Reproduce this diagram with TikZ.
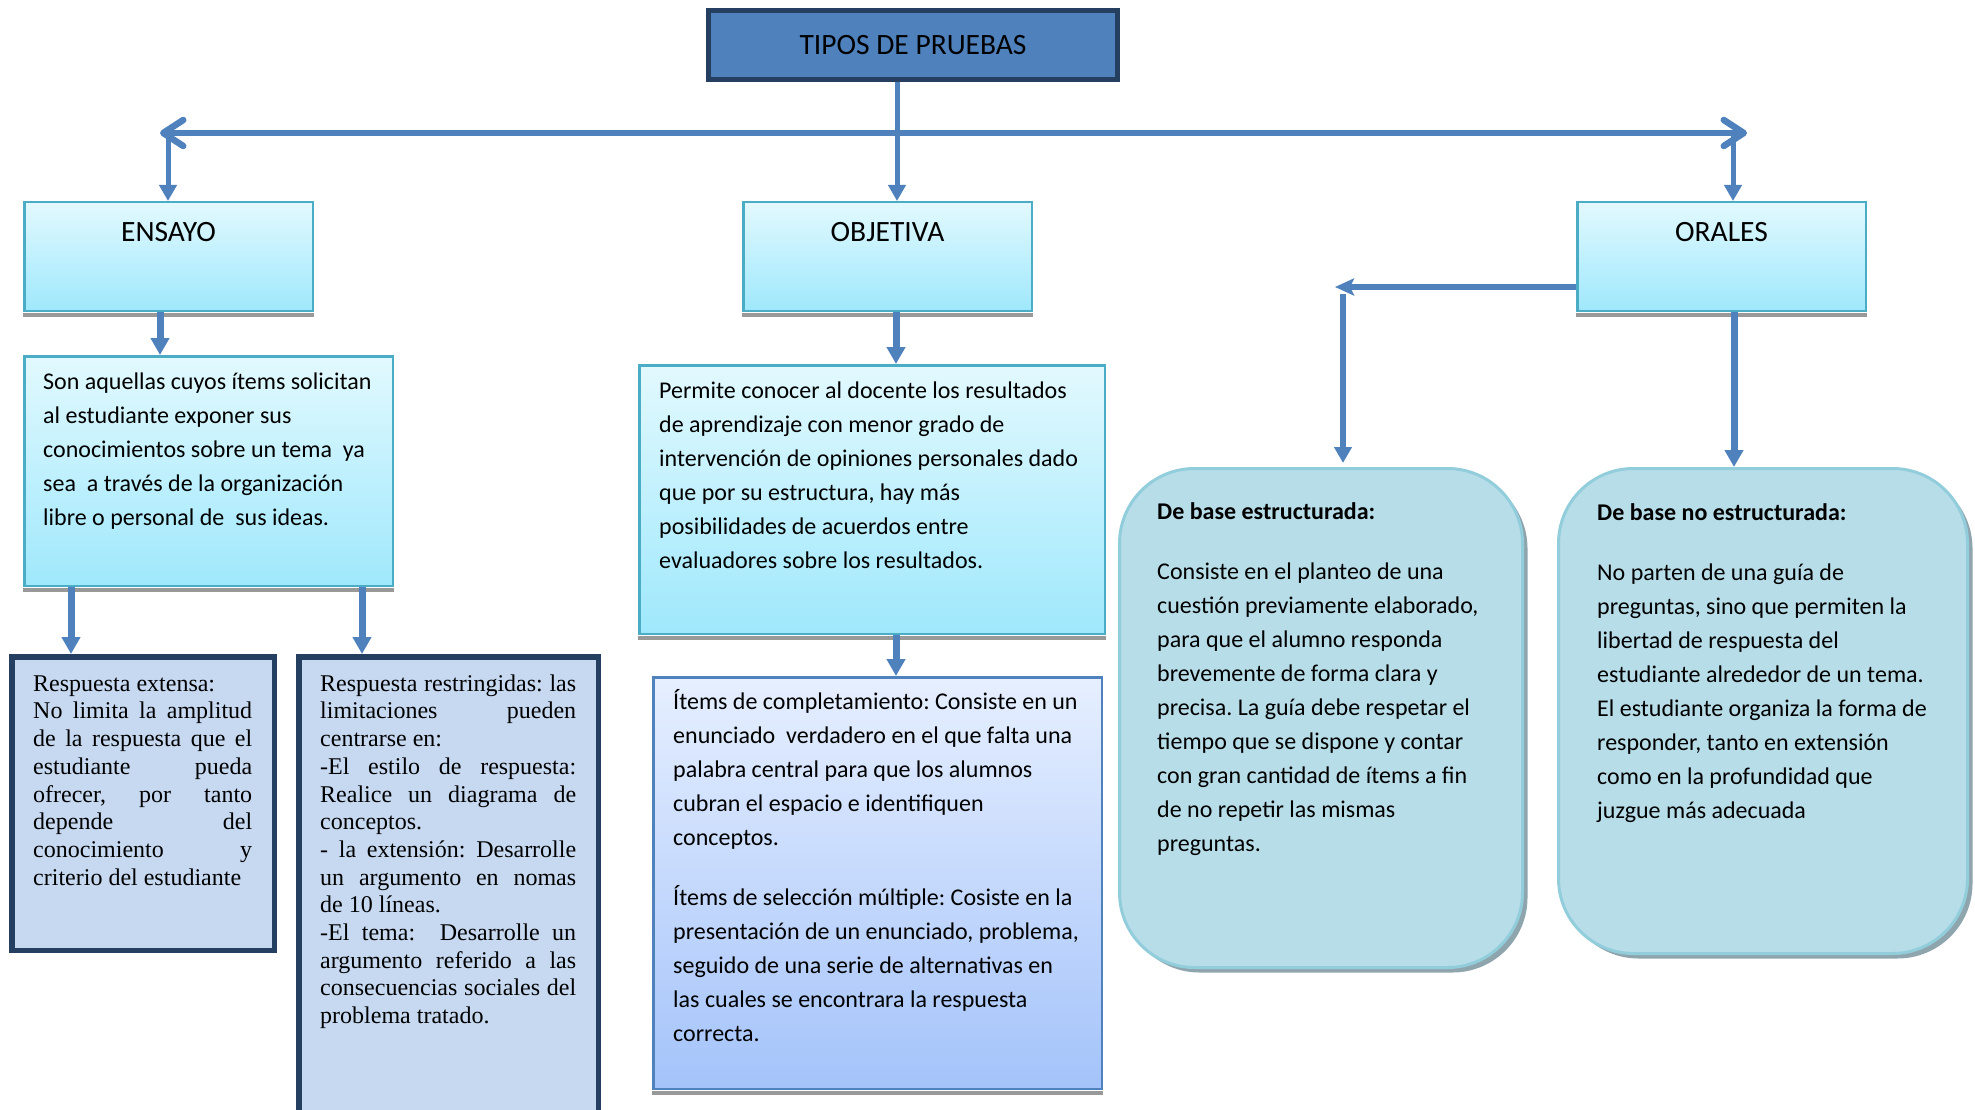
\documentclass[tikz,border=0pt]{standalone}
\usepackage{fontspec}
\setmainfont{Carlito}
\newfontfamily\tnr{Liberation Serif}
\usetikzlibrary{arrows.meta,shadows}
\definecolor{cblue}{HTML}{4F81BD}
\definecolor{navy}{HTML}{243F60}
\definecolor{cyanTop}{HTML}{E2F9FE}
\definecolor{cyanBot}{HTML}{9FE8FC}
\definecolor{cyanBd}{HTML}{4BACC6}
\definecolor{itemsTop}{HTML}{E6EFFF}
\definecolor{itemsBot}{HTML}{A4C3FA}
\definecolor{respFill}{HTML}{C6D9F1}
\definecolor{rFill}{HTML}{B7DDE8}
\definecolor{rBd}{HTML}{92CDDC}
\definecolor{rShadow}{HTML}{8FA5AE}
\setlength\parindent{0pt}
\frenchspacing
\newcommand\fstrut{\spaceskip=0pt\xspaceskip=0pt\relax\rule{0pt}{24pt}}
\newcommand\jline[2]{\makebox[#1][s]{#2}}
\begin{document}
\begin{tikzpicture}[x=1pt,y=-1pt,
  conn/.style={draw=cblue, line width=5pt, -{Triangle[width=17pt,length=16pt]}},
  connw/.style={draw=cblue, line width=7pt, -{Triangle[width=18pt,length=17pt]}},
  bigarrow/.style={draw=cblue, line width=6.5pt, {Straight Barb[length=20pt,width=26pt,round]}-{Straight Barb[length=20pt,width=26pt,round]}},
  leftarrow/.style={draw=cblue, line width=6pt, -{Stealth[length=19pt,width=17pt,inset=4pt]}},
  cyanbox/.style={rectangle, draw=cyanBd, line width=2.5pt, top color=cyanTop, bottom color=cyanBot, inner sep=0pt},
  itemsbox/.style={rectangle, draw=cblue, line width=2.5pt, top color=itemsTop, bottom color=itemsBot, inner sep=0pt},
  respbox/.style={rectangle, draw=navy, line width=5.5pt, fill=respFill, inner sep=0pt},
  rbox/.style={rectangle, rounded corners=75pt, draw=rBd, line width=3pt, fill=rFill, inner sep=0pt,
     copy shadow={shadow xshift=5pt, shadow yshift=-5pt, fill=rShadow, draw=none}},
  tiposbox/.style={rectangle, draw=navy, line width=5pt, fill=cblue, inner sep=0pt, font=\fontsize{29.5}{34}\selectfont},
  headtext/.style={font=\fontsize{29.5}{34}\selectfont, inner sep=0pt, anchor=base},
  calib/.style={font=\fontsize{24}{34}\selectfont, align=left, inner sep=0pt, anchor=north west},
  timesf/.style={font=\tnr\fontsize{24}{27.7}\selectfont, align=left, inner sep=0pt, anchor=north west},
  strip/.style={fill=gray!80}
]
\useasboundingbox (0,0) rectangle (1975,1110);
\fill[white] (0,0) rectangle (1975,1110);

% boxes
\node[tiposbox, minimum width=409pt, minimum height=69pt] (tipos) at (913,45) {TIPOS DE PRUEBAS};

\node[cyanbox, minimum width=288.5pt, minimum height=108.5pt] (ensayo) at (168.5,256.5) {};
\node[cyanbox, minimum width=288.5pt, minimum height=108.5pt] (objetiva) at (887.5,256.5) {};
\node[cyanbox, minimum width=288.5pt, minimum height=108.5pt] (orales) at (1721.5,256.5) {};
\node[headtext] (ensayoT) at (168.5,241) {ENSAYO};
\node[headtext] (objetivaT) at (887.5,241) {OBJETIVA};
\node[headtext] (oralesT) at (1721.5,241) {ORALES};

\node[cyanbox, minimum width=368.5pt, minimum height=229.5pt] (ensdesc) at (208.5,471) {};
\node[cyanbox, minimum width=465.5pt, minimum height=268.5pt] (objdesc) at (872,499.5) {};
\node[itemsbox, minimum width=448.5pt, minimum height=411.5pt] (items) at (877.5,883) {};

\foreach \n in {ensayo,objetiva,orales,ensdesc,objdesc,items}{
  \fill[strip] ([yshift=-1.3pt]\n.south west) rectangle ([yshift=-5pt]\n.south east);
}

\node[respbox, minimum width=262.5pt, minimum height=293.5pt] (resp1) at (143,803.5) {};
\node[respbox, minimum width=299.5pt, minimum height=470.5pt] (resp2) at (448.5,892) {};

\node[rbox, minimum width=403pt, minimum height=499pt] (rbox1) at (1321,718) {};
\node[rbox, minimum width=409pt, minimum height=485pt] (rbox2) at (1763,711) {};

% texts
\node[calib, text width=345pt] (ensdescT) at (43,365) {\fstrut Son aquellas cuyos ítems solicitan\\
al estudiante exponer sus\\
conocimientos sobre un tema\ \ ya\\
sea\ \ a través de la organización\\
libre o personal de\ \ sus ideas.};

\node[calib, text width=440pt] (objdescT) at (659,374) {\fstrut Permite conocer al docente los resultados\\
de aprendizaje con menor grado de\\
intervención de opiniones personales dado\\
que por su estructura, hay más\\
posibilidades de acuerdos entre\\
evaluadores sobre los resultados.};

\node[calib, text width=425pt] (itemsT) at (673,685) {\fstrut Ítems de completamiento: Consiste en un\\
enunciado\ \ verdadero en el que falta una\\
palabra central para que los alumnos\\
cubran el espacio e identifiquen\\
conceptos.\\[26pt]
Ítems de selección múltiple: Cosiste en la\\
presentación de un enunciado, problema,\\
seguido de una serie de alternativas en\\
las cuales se encontrara la respuesta\\
correcta.};

\node[calib, text width=355pt] (rbox1T) at (1157,495) {\fstrut\textbf{De base estructurada:}\\[26pt]
Consiste en el planteo de una\\
cuestión previamente elaborado,\\
para que el alumno responda\\
brevemente de forma clara y\\
precisa. La guía debe respetar el\\
tiempo que se dispone y contar\\
con gran cantidad de ítems a fin\\
de no repetir las mismas\\
preguntas.};

\node[calib, text width=360pt] (rbox2T) at (1597,496) {\fstrut\textbf{De base no estructurada:}\\[26pt]
No parten de una guía de\\
preguntas, sino que permiten la\\
libertad de respuesta del\\
estudiante alrededor de un tema.\\
El estudiante organiza la forma de\\
responder, tanto en extensión\\
como en la profundidad que\\
juzgue más adecuada};

\node[timesf, text width=225pt] (resp1T) at (33,667) {\fstrut Respuesta extensa:\\
\jline{219pt}{No limita la amplitud}\\
\jline{219pt}{de la respuesta que el}\\
\jline{219pt}{estudiante pueda}\\
\jline{219pt}{ofrecer, por tanto}\\
\jline{219pt}{depende del}\\
\jline{219pt}{conocimiento y}\\
criterio del estudiante};

\node[timesf, text width=262pt] (resp2T) at (320,667) {\fstrut\jline{256pt}{Respuesta restringidas: las}\\
\jline{256pt}{limitaciones pueden}\\
centrarse en:\\
\jline{256pt}{-El estilo de respuesta:}\\
\jline{256pt}{Realice un diagrama de}\\
conceptos.\\
\jline{256pt}{- la extensión: Desarrolle}\\
\jline{256pt}{un argumento en nomas}\\
de 10 líneas.\\
\jline{256pt}{-El tema:\ \ Desarrolle un}\\
\jline{256pt}{argumento referido a las}\\
\jline{256pt}{consecuencias sociales del}\\
problema tratado.};

% helper coordinates
\coordinate (hl) at (160,133);
\coordinate (hr) at (1747,133);
\coordinate (e0) at (168,136);
\coordinate (o0) at (1733,136);
\coordinate (xo) at (897,0);
\coordinate (xe) at (160,0);
\coordinate (xod) at (896,0);
\coordinate (x1) at (71,0);
\coordinate (x2) at (362,0);
\coordinate (xr) at (1734,0);
\coordinate (yo) at (0,287);
\coordinate (ol) at (1335,287);
\coordinate (ov) at (1343,294);

% connectors
\draw[conn] (tipos.south -| xo) -- (objetiva.north -| xo);
\draw[bigarrow] (hl) -- (hr);
\draw[conn] (e0) -- (ensayo.north -| e0);
\draw[conn] (o0) -- (orales.north -| o0);
\draw[connw] (ensayo.south -| xe) -- (ensdesc.north -| xe);
\draw[connw] (objetiva.south -| xod) -- (objdesc.north -| xod);
\draw[connw] (objdesc.south -| xod) -- (items.north -| xod);
\draw[connw] (ensdesc.south -| x1) -- (resp1.north -| x1);
\draw[connw] (ensdesc.south -| x2) -- (resp2.north -| x2);
\draw[leftarrow] (orales.west |- yo) -- (ol);
\draw[conn, line width=6pt] (ov) -- ([yshift=4pt]rbox1.north -| ov);
\draw[connw] (orales.south -| xr) -- (rbox2.north -| xr);
\end{tikzpicture}
\end{document}
